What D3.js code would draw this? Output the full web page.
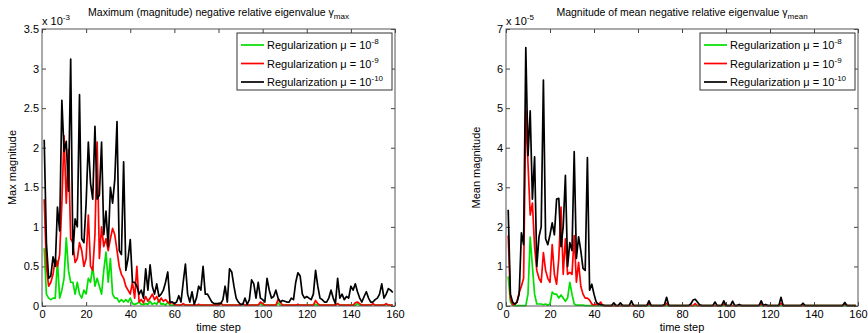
<!DOCTYPE html>
<html>
<head>
<meta charset="utf-8">
<script src="https://cdn.jsdelivr.net/npm/d3@7"></script>
<style>
  body { margin: 0; background: #fff; }
  text { font-family: "Liberation Sans", Arial, Helvetica, sans-serif; fill: #000; }
</style>
</head>
<body>
<div id="viz"></div>
<script>
// time steps 1..159
const steps = d3.range(1, 160);
const xTicks = [0, 20, 40, 60, 80, 100, 120, 140, 160];

// left panel: max magnitude (x 1e-3)
const maxTicks = [0, 0.5, 1, 1.5, 2, 2.5, 3, 3.5];
const maxMu8 = [
  0.73,0.15,0.1,0.08,0.1,0.1,0.57,0.1,0.2,0.35,0.86,0.45,0.3,0.3,0.15,0.3,0.15,0.1,0.2,0.15,
  0.35,0.3,0.5,0.25,0.35,0.25,0.15,0.45,0.68,0.3,0.6,0.15,0.1,0.1,0.05,0.08,0.05,0.08,0.05,0.1,
  0.03,0.02,0.03,0.05,0.02,0.02,0.03,0.02,0.06,0.02,0.04,0.02,0.08,0.02,0.03,0.01,0.05,0.01,0.01,0.01,
  0.01,0.01,0.01,0.02,0.01,0.01,0.01,0.01,0.01,0.01,0.01,0.01,0.01,0.01,0.01,0.01,0.01,0.01,0.01,0.01,
  0.03,0.01,0.01,0.01,0.01,0.01,0.01,0.01,0.01,0.01,0.02,0.01,0.01,0.01,0.01,0.01,0.01,0.01,0.03,0.01,
  0.01,0.01,0.01,0.01,0.01,0.01,0.04,0.01,0.01,0.01,0.01,0.01,0.01,0.01,0.01,0.01,0.01,0.01,0.01,0.01,
  0.01,0.01,0.01,0.02,0.01,0.01,0.01,0.01,0.01,0.01,0.01,0.01,0.01,0.03,0.01,0.01,0.01,0.01,0.01,0.01,
  0.01,0.01,0.03,0.01,0.01,0.01,0.01,0.01,0.01,0.02,0.01,0.01,0.01,0.01,0.01,0.02,0.01,0.01,0.01
];
const maxMu9 = [
  1.35,0.5,0.25,0.3,0.4,0.6,0.5,0.65,1.3,2.15,1.3,1.98,0.85,0.8,0.55,0.6,0.8,0.7,0.5,0.6,
  1.15,0.5,0.45,0.9,2.07,0.6,1.0,0.75,0.85,0.7,0.85,0.98,0.9,0.7,0.5,0.4,0.35,0.25,0.2,0.15,
  0.3,0.1,0.5,0.05,0.08,0.04,0.12,0.06,0.1,0.15,0.08,0.12,0.05,0.1,0.06,0.08,0.05,0.03,0.05,0.02,
  0.01,0.01,0.01,0.03,0.01,0.01,0.01,0.01,0.01,0.01,0.02,0.01,0.01,0.01,0.01,0.01,0.01,0.01,0.01,0.01,
  0.04,0.01,0.01,0.01,0.01,0.01,0.01,0.01,0.01,0.01,0.03,0.01,0.01,0.01,0.01,0.01,0.01,0.01,0.05,0.03,
  0.01,0.01,0.01,0.01,0.01,0.01,0.08,0.05,0.01,0.01,0.01,0.01,0.01,0.01,0.01,0.02,0.01,0.01,0.01,0.01,
  0.01,0.01,0.01,0.07,0.03,0.01,0.01,0.01,0.01,0.01,0.01,0.01,0.01,0.03,0.01,0.01,0.01,0.01,0.01,0.01,
  0.01,0.04,0.05,0.03,0.01,0.01,0.01,0.01,0.01,0.03,0.01,0.01,0.01,0.01,0.01,0.03,0.01,0.01,0.01
];
const maxMu10 = [
  2.1,0.8,0.35,0.38,0.62,0.5,1.25,0.95,2.6,1.95,2.08,1.45,3.12,0.65,1.1,1.0,2.67,0.85,0.8,1.3,
  2.07,1.55,1.35,2.27,1.35,1.4,2.07,0.9,1.2,0.75,1.5,1.3,1.6,2.33,0.7,0.65,1.82,0.45,0.6,0.84,
  0.3,0.3,0.25,0.15,0.2,0.1,0.47,0.2,0.52,0.25,0.15,0.28,0.12,0.15,0.2,0.3,0.43,0.05,0.05,0.03,
  0.05,0.13,0.05,0.3,0.53,0.15,0.05,0.18,0.02,0.1,0.25,0.2,0.5,0.15,0.15,0.1,0.05,0.03,0.03,0.03,
  0.03,0.08,0.25,0.05,0.47,0.43,0.25,0.1,0.05,0.02,0.02,0.1,0.02,0.08,0.33,0.28,0.1,0.3,0.1,0.08,
  0.05,0.35,0.2,0.1,0.12,0.2,0.1,0.05,0.07,0.06,0.05,0.05,0.1,0.08,0.3,0.42,0.38,0.15,0.1,0.12,
  0.1,0.08,0.15,0.45,0.25,0.1,0.08,0.05,0.05,0.1,0.2,0.1,0.03,0.35,0.1,0.15,0.08,0.12,0.1,0.25,
  0.2,0.28,0.18,0.1,0.05,0.12,0.18,0.1,0.05,0.05,0.08,0.1,0.15,0.28,0.1,0.15,0.22,0.2,0.17
];

// right panel: mean magnitude (x 1e-5)
const meanTicks = [0, 1, 2, 3, 4, 5, 6, 7];
const meanMu8 = [
  0.75,0.1,0.02,0.01,0.01,0.01,0.01,0.01,0.01,0.3,1.74,1.0,0.3,0.05,0.05,0.05,0.03,0.05,0.02,0.05,
  0.35,0.3,0.3,0.2,0.28,0.2,0.12,0.2,0.6,0.3,0.05,0.02,0.02,0.02,0.02,0.01,0.01,0.01,0.01,0.01,
  0.01,0.01,0.01,0.01,0.01,0.01,0.01,0.01,0.01,0.01,0.01,0.01,0.01,0.01,0.01,0.01,0.01,0.01,0.01,0.01,
  0.01,0.01,0.01,0.01,0.01,0.01,0.01,0.01,0.01,0.01,0.01,0.01,0.01,0.01,0.01,0.01,0.01,0.01,0.01,0.01,
  0.01,0.01,0.01,0.01,0.01,0.01,0.01,0.01,0.01,0.01,0.01,0.01,0.01,0.01,0.01,0.01,0.01,0.01,0.01,0.01,
  0.01,0.01,0.01,0.01,0.01,0.01,0.01,0.01,0.01,0.01,0.01,0.01,0.01,0.01,0.01,0.01,0.01,0.01,0.01,0.01,
  0.01,0.01,0.01,0.01,0.01,0.01,0.01,0.01,0.01,0.01,0.01,0.01,0.01,0.01,0.01,0.01,0.01,0.01,0.01,0.01,
  0.01,0.01,0.01,0.01,0.01,0.01,0.01,0.01,0.01,0.01,0.01,0.01,0.01,0.01,0.01,0.01,0.01,0.01,0.01
];
const meanMu9 = [
  1.78,0.2,0.03,0.05,0.1,0.35,0.5,0.7,4.95,3.6,2.3,2.6,1.5,0.9,0.7,0.6,1.35,0.9,0.7,0.6,
  1.55,0.8,0.55,1.2,2.5,0.8,1.7,0.8,0.85,0.8,1.78,0.6,1.1,0.5,0.3,0.2,0.2,0.15,0.05,0.02,
  0.05,0.02,0.1,0.01,0.01,0.01,0.01,0.01,0.01,0.01,0.01,0.01,0.01,0.01,0.01,0.01,0.01,0.01,0.01,0.01,
  0.01,0.01,0.01,0.01,0.06,0.01,0.01,0.01,0.01,0.01,0.01,0.01,0.07,0.01,0.01,0.01,0.01,0.01,0.01,0.01,
  0.01,0.01,0.01,0.01,0.01,0.06,0.01,0.01,0.01,0.01,0.01,0.01,0.01,0.01,0.01,0.01,0.01,0.01,0.05,0.01,
  0.01,0.01,0.01,0.01,0.01,0.01,0.01,0.01,0.01,0.01,0.01,0.01,0.01,0.01,0.01,0.05,0.01,0.01,0.01,0.01,
  0.01,0.01,0.01,0.01,0.07,0.01,0.01,0.01,0.01,0.01,0.01,0.01,0.01,0.01,0.01,0.01,0.01,0.01,0.01,0.01,
  0.01,0.01,0.01,0.01,0.01,0.01,0.01,0.01,0.01,0.01,0.01,0.01,0.01,0.06,0.01,0.01,0.01,0.01,0.01
];
const meanMu10 = [
  2.43,0.3,0.1,0.05,0.1,0.3,1.85,1.55,6.53,3.8,4.93,2.7,3.77,1.0,1.75,2.0,5.71,1.7,1.55,1.8,
  2.1,1.8,2.7,2.72,1.5,2.0,3.3,1.0,1.6,1.4,3.9,1.2,1.75,1.4,0.95,0.9,3.75,0.4,0.55,0.3,
  0.1,0.05,0.03,0.02,0.01,0.01,0.01,0.01,0.08,0.01,0.01,0.08,0.01,0.01,0.01,0.01,0.13,0.01,0.01,0.01,
  0.01,0.01,0.01,0.01,0.13,0.01,0.01,0.01,0.01,0.01,0.01,0.03,0.22,0.01,0.01,0.01,0.01,0.01,0.01,0.01,
  0.01,0.01,0.01,0.05,0.15,0.17,0.1,0.03,0.01,0.01,0.01,0.01,0.01,0.01,0.1,0.01,0.01,0.01,0.13,0.01,
  0.01,0.01,0.12,0.01,0.01,0.04,0.01,0.01,0.01,0.01,0.01,0.01,0.01,0.01,0.01,0.13,0.01,0.04,0.01,0.01,
  0.01,0.01,0.01,0.01,0.22,0.01,0.01,0.01,0.01,0.01,0.01,0.01,0.01,0.01,0.07,0.01,0.01,0.01,0.01,0.01,
  0.01,0.01,0.01,0.01,0.01,0.01,0.01,0.01,0.01,0.01,0.01,0.01,0.01,0.09,0.01,0.01,0.01,0.01,0.01
];

const exps = ["-8", "-9", "-10"];
const colors = ["#00e000", "#ff0000", "#000000"];

const svg = d3.select("#viz")
    .append("svg")
    .attr("width", 868)
    .attr("height", 333);

const plotTop = 29, plotBottom = 306;

function drawPanel(p) {
    const x = d3.scaleLinear().domain([0, 160]).range([p.left, p.right]);
    const y = d3.scaleLinear().domain([0, p.yMax]).range([plotBottom, plotTop]);
    const g = svg.append("g");

    // axes with inward ticks on all four sides
    const ax = [
        g.append("g").attr("transform", `translate(0,${plotBottom})`)
            .call(d3.axisBottom(x).tickValues(xTicks).tickSizeInner(-4).tickSizeOuter(0).tickPadding(4)),
        g.append("g").attr("transform", `translate(0,${plotTop})`)
            .call(d3.axisTop(x).tickValues(xTicks).tickSizeInner(-4).tickSizeOuter(0).tickFormat("")),
        g.append("g").attr("transform", `translate(${p.left},0)`)
            .call(d3.axisLeft(y).tickValues(p.yTicks).tickSizeInner(-4).tickSizeOuter(0).tickPadding(3).tickFormat(d3.format("~g"))),
        g.append("g").attr("transform", `translate(${p.right},0)`)
            .call(d3.axisRight(y).tickValues(p.yTicks).tickSizeInner(-4).tickSizeOuter(0).tickFormat(""))
    ];
    ax.forEach(a => {
        a.select(".domain").remove();
        a.selectAll("line").attr("stroke", "#444");
        a.selectAll("text").attr("font-size", 11).attr("fill", "#000")
            .style("font-family", "'Liberation Sans', Arial, sans-serif");
    });

    // lines, black drawn last
    const line = d3.line()
        .x((d, i) => x(steps[i]))
        .y(d => y(d));
    p.series.forEach((s, i) => {
        g.append("path")
            .datum(s)
            .attr("fill", "none")
            .attr("stroke", colors[i])
            .attr("stroke-width", 1.7)
            .attr("stroke-linejoin", "round")
            .attr("d", line);
    });

    // frame
    g.append("rect")
        .attr("x", p.left).attr("y", plotTop)
        .attr("width", p.right - p.left).attr("height", plotBottom - plotTop)
        .attr("fill", "none").attr("stroke", "#555").attr("stroke-width", 1);

    // exponent label
    const ex = g.append("text").attr("x", p.left).attr("y", 25).attr("font-size", 11);
    ex.append("tspan").text("x 10");
    ex.append("tspan").attr("dy", -5).attr("font-size", 8).text(p.exp);

    // title
    const t = g.append("text")
        .attr("x", (p.left + p.right) / 2).attr("y", 16)
        .attr("text-anchor", "middle").attr("font-size", 10.5);
    t.append("tspan").text(p.title + " \u03b3");
    t.append("tspan").attr("dy", 3).attr("font-size", 8).text(p.sub);

    // axis labels
    g.append("text")
        .attr("x", (p.left + p.right) / 2).attr("y", 331)
        .attr("text-anchor", "middle").attr("font-size", 11)
        .text("time step");
    g.append("text")
        .attr("transform", `translate(${p.left - 26},${(plotTop + plotBottom) / 2}) rotate(-90)`)
        .attr("text-anchor", "middle").attr("font-size", 11)
        .text(p.yLabel);

    // legend
    const lx = p.right - 158, ly = 33;
    g.append("rect")
        .attr("x", lx).attr("y", ly).attr("width", 155).attr("height", 57)
        .attr("fill", "#fff").attr("stroke", "#333").attr("stroke-width", 1);
    exps.forEach((e, i) => {
        const cy = ly + 12 + i * 18.5;
        g.append("line")
            .attr("x1", lx + 4).attr("x2", lx + 27)
            .attr("y1", cy).attr("y2", cy)
            .attr("stroke", colors[i]).attr("stroke-width", 1.7);
        const lt = g.append("text").attr("x", lx + 30).attr("y", cy + 4).attr("font-size", 11);
        lt.append("tspan").text("Regularization \u03bc = 10");
        lt.append("tspan").attr("dy", -5).attr("font-size", 8).text(e);
    });
}

drawPanel({
    left: 42, right: 395, yMax: 3.5, yTicks: maxTicks, exp: "-3",
    title: "Maximum (magnitude) negative relative eigenvalue", sub: "max",
    yLabel: "Max magnitude", series: [maxMu8, maxMu9, maxMu10]
});
drawPanel({
    left: 506, right: 858, yMax: 7, yTicks: meanTicks, exp: "-5",
    title: "Magnitude of mean negative relative eigenvalue", sub: "mean",
    yLabel: "Mean magnitude", series: [meanMu8, meanMu9, meanMu10]
});
</script>
</body>
</html>
